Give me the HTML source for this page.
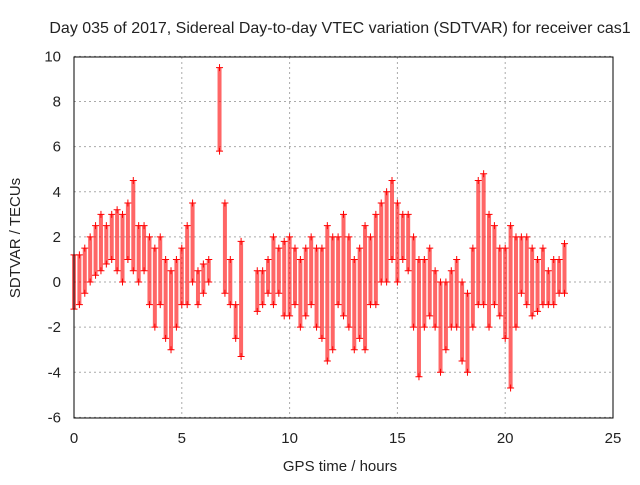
<!DOCTYPE html>
<html><head><meta charset="utf-8"><style>
body{margin:0;background:#fff}
svg text{font-family:"Liberation Sans",sans-serif;font-size:15px;fill:#222}
</style></head><body>
<svg id="c" width="640" height="480">
<text x="340" y="33" text-anchor="middle" style="font-size:16px">Day 035 of 2017, Sidereal Day-to-day VTEC variation (SDTVAR) for receiver cas1</text>
<text x="340" y="471" text-anchor="middle">GPS time / hours</text>
<text transform="translate(20,238) rotate(-90)" text-anchor="middle">SDTVAR / TECUs</text>
<g id="grid"></g><g id="marks"></g>
<rect x="74" y="57" width="539" height="361" fill="none" stroke="#000"/>
</svg>
<script>
const xTicks=[0,5,10,15,20,25];
const yTicks=[-6,-4,-2,0,2,4,6,8,10];
const hours=[0,0.25,0.5,0.75,1,1.25,1.5,1.75,2,2.25,2.5,2.75,3,3.25,3.5,3.75,4,4.25,4.5,4.75,5,5.25,5.5,5.75,6,6.25,6.75,7,7.25,7.5,7.75,8.5,8.75,9,9.25,9.5,9.75,10,10.25,10.5,10.75,11,11.25,11.5,11.75,12,12.25,12.5,12.75,13,13.25,13.5,13.75,14,14.25,14.5,14.75,15,15.25,15.5,15.75,16,16.25,16.5,16.75,17,17.25,17.5,17.75,18,18.25,18.5,18.75,19,19.25,19.5,19.75,20,20.25,20.5,20.75,21,21.25,21.5,21.75,22,22.25,22.5,22.75];
const lo=[-1.2,-1,-0.5,0,0.3,0.5,0.8,1,0.5,0,1,0.5,0,0.5,-1,-2,-1,-2.5,-3,-2,-1,-1,0,-1,-0.5,0,5.8,-0.5,-1,-2.5,-3.3,-1.3,-1,-0.5,-1,-0.5,-1.5,-1.5,-1,-2,-1.5,-1,-2,-2.5,-3.5,-3,-1,-1.5,-2,-3,-2.5,-3,-1,-1,0,0,1,0,1,0.5,-2,-4.2,-2,-1.5,-2,-4,-3,-2,-2,-3.5,-4,-2,-1,-1,-2,-1,-1.5,-2.5,-4.7,-2,-0.5,-1,-1.5,-1.3,-1,-1,-1,-0.5,-0.5];
const hi=[1.2,1.2,1.5,2,2.5,3,2.5,3,3.2,3,3.5,4.5,2.5,2.5,2,1.5,2,1,0.5,1,1.5,2.5,3.5,0.5,0.8,1,9.5,3.5,1,-1,1.8,0.5,0.5,1,2,1.5,1.8,2,1.5,1,1.5,2,1.5,1.5,2.5,2,2,3,2,1,1.5,2.5,2,3,3.5,4,4.5,3.5,3,3,2,1,1,1.5,0.5,0,0,0.5,1,0,-0.5,1.5,4.5,4.8,3,2.5,1.5,1.5,2.5,2,2,2,1.5,1,1.5,0.5,1,1,1.7];
const X=v=>74+v*539/25, Y=v=>282-v*361/16;
const NS='http://www.w3.org/2000/svg', svg=document.getElementById('c');
const grid=document.getElementById('grid'), marks=document.getElementById('marks');
function mk(t,a,p){const e=document.createElementNS(NS,t);for(const k in a)e.setAttribute(k,a[k]);p.appendChild(e);return e;}
xTicks.forEach(v=>{
 const l=mk('line',{x1:X(v),x2:X(v),y1:57,y2:418,stroke:'#aaa','stroke-dasharray':'2,3'},grid);
 
 
 const t=mk('text',{x:X(v),y:443,'text-anchor':'middle'},svg);t.textContent=v;
 
 
});
yTicks.forEach(v=>{
 const l=mk('line',{x1:74,x2:613,y1:Y(v),y2:Y(v),stroke:'#aaa','stroke-dasharray':'2,3'},grid);
 
 
 const t=mk('text',{x:61,y:Y(v)+5,'text-anchor':'end'},svg);t.textContent=v;
 
 
});
function plus(x,y){
 const p=mk('path',{d:`M${x-3.5},${y}h7M${x},${y-3.5}v7`,stroke:'#f00','stroke-width':1},marks);
 
 
}
hours.forEach((h,i)=>{
 const r=mk('rect',{x:X(h)-2,y:Y(hi[i]),width:4,height:Math.max(1,Y(lo[i])-Y(hi[i])),fill:'#f00',opacity:0.6},marks);
 
 
 plus(X(h),Y(lo[i]));plus(X(h),Y(hi[i]));
});
</script>
</body></html>
